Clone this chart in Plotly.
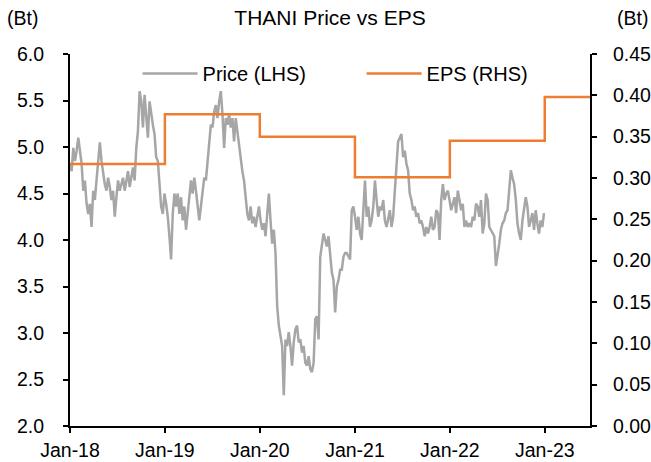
import pandas as pd
import plotly.graph_objects as go

# ---- data ----
price = [
    # 2018
    4.82, 4.74, 4.99, 4.85, 4.96, 5.10, 4.96, 4.82, 4.53, 4.64, 4.39, 4.28, 4.39, 4.14, 4.53, 4.43,
    4.64, 4.89, 5.05, 4.85, 4.71, 4.60, 4.53, 4.67, 4.57, 4.43, 4.53, 4.25, 4.46, 4.64, 4.53, 4.60,
    4.67, 4.53, 4.64, 4.74, 4.57, 4.67, 4.78, 4.64, 4.99,
    5.17, 5.60, 5.49, 5.21, 5.56, 5.35, 5.10, 5.49, 5.35, 5.24, 5.14, 4.89, 4.85, 4.64, 4.36, 4.28,
    4.50, 4.39, 4.25, 4.04, 3.79, 4.28, 4.50, 4.36, 4.50, 4.28, 4.46, 4.21, 4.36, 4.11, 4.28, 4.43,
    4.64, 4.50, 4.67, 4.53, 4.39, 4.21, 4.36, 4.53, 4.67,
    4.64, 4.82, 4.99, 5.24, 5.21, 5.38, 5.45, 5.31, 5.49, 5.60, 5.35, 4.99, 5.31, 5.24, 5.35, 5.21,
    5.31, 5.06, 5.31, 5.17, 4.99, 4.85, 4.74, 4.64, 4.43, 4.28, 4.21, 4.36, 4.18, 4.25, 4.14, 4.28,
    4.36, 4.21, 4.11, 4.18, 4.04, 4.28, 4.50, 4.21, 3.96,
    4.11, 3.86, 3.29, 3.08, 2.97, 2.86, 2.33, 2.93, 2.86, 3.01, 2.86, 2.65, 2.90, 3.04, 3.08, 2.90,
    2.93, 2.79, 2.86, 2.68, 2.65, 2.75, 2.61, 2.58, 2.68, 3.15, 3.18, 2.93, 3.82, 3.93, 4.07, 4.00,
    3.93, 4.04, 3.86, 3.65, 3.57, 3.22, 3.50, 3.57, 3.68,
    3.68, 3.82, 3.86, 3.86, 3.82, 3.79, 4.32, 4.36, 4.25, 4.11, 4.25, 4.07, 4.00, 4.29, 4.64, 4.25,
    4.36, 4.14, 4.21, 4.36, 4.64, 4.43, 4.25, 4.36, 4.32, 4.43, 4.21, 4.14, 4.25, 4.32, 4.14, 4.25,
    4.53, 4.78, 5.06, 5.10, 5.14, 4.89, 4.96, 4.82, 4.75,
    4.50, 4.43, 4.32, 4.36, 4.25, 4.29, 4.18, 4.21, 4.14, 4.04, 4.14, 4.07, 4.14, 4.25, 4.11, 4.14,
    4.32, 4.29, 4.00, 4.43, 4.60, 4.43, 4.50, 4.53, 4.43, 4.32, 4.39, 4.46, 4.29, 4.53, 4.43, 4.32,
    4.39, 4.14, 4.21, 4.14, 4.18, 4.14, 4.25, 4.21, 4.39,
    4.36, 4.25, 4.43, 4.07, 4.18, 4.50, 4.43, 4.14, 4.11, 4.07, 4.04, 3.72, 3.82, 3.96, 4.11, 4.18,
    4.21, 4.29, 4.32, 4.53, 4.75, 4.67, 4.60, 4.43, 4.18, 4.07, 4.00, 4.21, 4.32, 4.46, 4.36, 4.14,
    4.21, 4.29, 4.11, 4.32, 4.18, 4.07, 4.21, 4.14, 4.29,
]
price_start = "2018-01-01"
price_end = "2022-12-29"

eps_dates = ["2018-01-01", "2019-01-01", "2020-01-01", "2021-01-01", "2022-01-01", "2023-01-01"]
eps_values = [0.317, 0.377, 0.350, 0.301, 0.345, 0.398]

x_range = ["2018-01-01", "2023-06-24"]
x_ticks = ["2018-01-01", "2019-01-01", "2020-01-01", "2021-01-01", "2022-01-01", "2023-01-01"]
x_tick_labels = ["Jan-18", "Jan-19", "Jan-20", "Jan-21", "Jan-22", "Jan-23"]
left_ticks = [2.0, 2.5, 3.0, 3.5, 4.0, 4.5, 5.0, 5.5, 6.0]
right_ticks = [0.00, 0.05, 0.10, 0.15, 0.20, 0.25, 0.30, 0.35, 0.40, 0.45]

price_dates = pd.date_range(price_start, price_end, periods=len(price))
eps_x = eps_dates + [x_range[1]]
eps_y = eps_values + [eps_values[-1]]

FONT = "Liberation Sans, Arial, sans-serif"
GRAY = "#A6A6A6"
ORANGE = "#ED7D31"
TICK_SIZE = 19.5
TEXT_SIZE = 20

fig = go.Figure()
fig.add_trace(go.Scatter(x=price_dates, y=price, mode="lines", name="Price (LHS)",
                         line=dict(color=GRAY, width=2.5), yaxis="y"))
fig.add_trace(go.Scatter(x=eps_x, y=eps_y, mode="lines", name="EPS (RHS)",
                         line=dict(color=ORANGE, width=2.5, shape="hv"), yaxis="y2"))

axis_common = dict(showgrid=False, zeroline=False, showline=True, linecolor="black", linewidth=2,
                   ticks="outside", ticklen=5, tickwidth=2, tickcolor="black", automargin=False,
                   tickfont=dict(family=FONT, size=TICK_SIZE, color="black"))

fig.update_layout(
    width=651, height=462,
    margin=dict(l=70, r=61, t=54, b=36, autoexpand=False),
    paper_bgcolor="white", plot_bgcolor="white",
    font=dict(family=FONT, size=TEXT_SIZE, color="black"),
    title=dict(text="THANI Price vs EPS", x=0.5, xref="paper", xanchor="center",
               y=1 - 18 / 462, yref="container", yanchor="middle",
               font=dict(family=FONT, size=21, color="black")),
    xaxis=dict(type="date", range=x_range, tickvals=x_ticks, ticktext=x_tick_labels,
               ticklabelstandoff=1, **axis_common),
    yaxis=dict(range=[2.0, 6.0], tickvals=left_ticks, tickformat=".1f",
               ticklabelstandoff=15, **axis_common),
    yaxis2=dict(range=[0.0, 0.45], tickvals=right_ticks, tickformat=".2f", overlaying="y",
                side="right", ticklabelstandoff=12, **axis_common),
    legend=dict(orientation="h", x=0.13, xanchor="left", y=1.0, yanchor="top",
                bgcolor="rgba(0,0,0,0)", font=dict(family=FONT, size=TEXT_SIZE, color="black"),
                itemwidth=55, entrywidth=154, entrywidthmode="pixels"),
    showlegend=True,
)

fig.add_annotation(text="(Bt)", x=-0.092, y=1 + 36 / 372, xref="paper", yref="paper",
                   showarrow=False, xanchor="center", yanchor="middle",
                   font=dict(family=FONT, size=TICK_SIZE, color="black"))
fig.add_annotation(text="(Bt)", x=1.081, y=1 + 36 / 372, xref="paper", yref="paper",
                   showarrow=False, xanchor="center", yanchor="middle",
                   font=dict(family=FONT, size=TICK_SIZE, color="black"))

fig.write_html("out.html", config={"displayModeBar": False},
               post_script="document.body.style.margin='0px';"
               "document.body.style.overflow='hidden';")
